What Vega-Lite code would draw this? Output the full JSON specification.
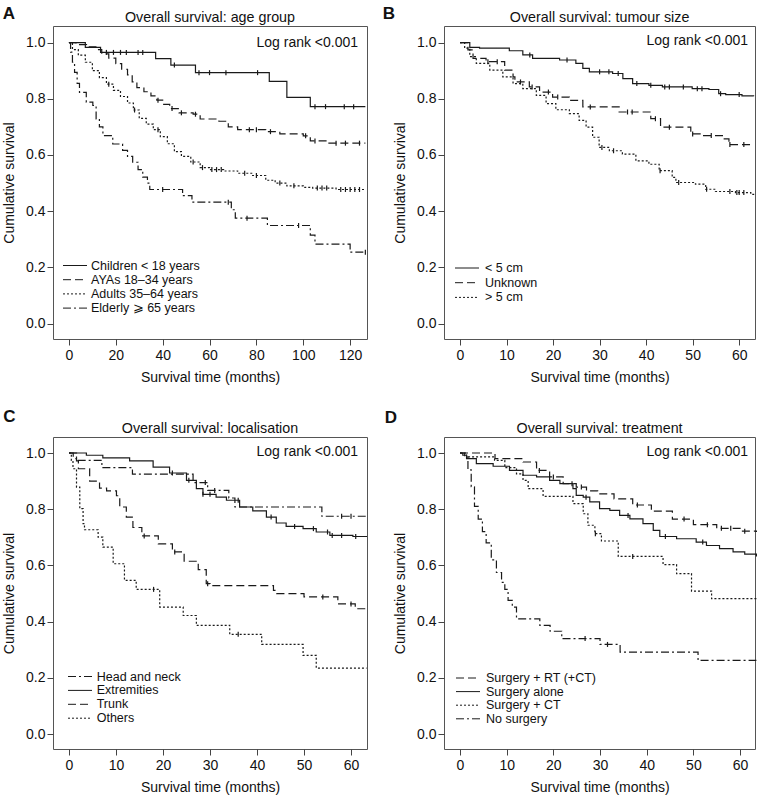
{
"$schema": "https://vega.github.io/schema/vega-lite/v6.json",
"padding": {"left": 2, "top": 4, "right": 0, "bottom": 0},
"background": "white",
"config": {
  "font": "Liberation Sans",
  "view": {"stroke": "#555", "strokeWidth": 1},
  "axis": {"domain": false, "grid": false, "ticks": true, "tickSize": 6, "tickColor": "#444", "tickWidth": 1, "labelFontSize": 14, "labelColor": "#111", "titleFontSize": 14, "titleFontWeight": "normal", "titleColor": "#111", "labelPadding": 3, "labelFlush": false, "labelOverlap": false},
  "axisX": {"titlePadding": 8},
  "axisY": {"titlePadding": 9, "labelPadding": 2},
  "legend": {"symbolSize": 144, "symbolStrokeWidth": 1, "symbolStrokeColor": "#1a1a1a", "symbolFillColor": "transparent", "labelFontSize": 12.5, "labelColor": "#111", "rowPadding": 1.2, "padding": 0, "labelLimit": 300}
},
"datasets": {
"curves": [
{"p":"A","g":"Children < 18 years","m":0,"s":1},{"p":"A","g":"Children < 18 years","m":7,"s":0.983},{"p":"A","g":"Children < 18 years","m":13.5,"s":0.965},{"p":"A","g":"Children < 18 years","m":37,"s":0.943},{"p":"A","g":"Children < 18 years","m":43.5,"s":0.92},{"p":"A","g":"Children < 18 years","m":54,"s":0.893},{"p":"A","g":"Children < 18 years","m":85.5,"s":0.862},{"p":"A","g":"Children < 18 years","m":93,"s":0.805},{"p":"A","g":"Children < 18 years","m":103,"s":0.772},{"p":"A","g":"Children < 18 years","m":126.5,"s":0.772},
{"p":"A","g":"AYAs 18–34 years","m":0,"s":1},{"p":"A","g":"AYAs 18–34 years","m":3,"s":0.993},{"p":"A","g":"AYAs 18–34 years","m":7.5,"s":0.985},{"p":"A","g":"AYAs 18–34 years","m":11.5,"s":0.975},{"p":"A","g":"AYAs 18–34 years","m":14,"s":0.96},{"p":"A","g":"AYAs 18–34 years","m":17,"s":0.945},{"p":"A","g":"AYAs 18–34 years","m":20,"s":0.925},{"p":"A","g":"AYAs 18–34 years","m":22.5,"s":0.905},{"p":"A","g":"AYAs 18–34 years","m":25,"s":0.885},{"p":"A","g":"AYAs 18–34 years","m":27,"s":0.86},{"p":"A","g":"AYAs 18–34 years","m":29,"s":0.84},{"p":"A","g":"AYAs 18–34 years","m":32,"s":0.825},{"p":"A","g":"AYAs 18–34 years","m":35,"s":0.81},{"p":"A","g":"AYAs 18–34 years","m":37.5,"s":0.795},{"p":"A","g":"AYAs 18–34 years","m":40,"s":0.78},{"p":"A","g":"AYAs 18–34 years","m":43,"s":0.765},{"p":"A","g":"AYAs 18–34 years","m":47,"s":0.75},{"p":"A","g":"AYAs 18–34 years","m":53,"s":0.745},{"p":"A","g":"AYAs 18–34 years","m":56,"s":0.728},{"p":"A","g":"AYAs 18–34 years","m":64,"s":0.72},{"p":"A","g":"AYAs 18–34 years","m":68,"s":0.7},{"p":"A","g":"AYAs 18–34 years","m":72,"s":0.69},{"p":"A","g":"AYAs 18–34 years","m":84,"s":0.683},{"p":"A","g":"AYAs 18–34 years","m":90,"s":0.675},{"p":"A","g":"AYAs 18–34 years","m":100,"s":0.668},{"p":"A","g":"AYAs 18–34 years","m":103,"s":0.65},{"p":"A","g":"AYAs 18–34 years","m":110,"s":0.642},{"p":"A","g":"AYAs 18–34 years","m":126.5,"s":0.642},
{"p":"A","g":"Adults 35–64 years","m":0,"s":1},{"p":"A","g":"Adults 35–64 years","m":1.5,"s":0.975},{"p":"A","g":"Adults 35–64 years","m":4,"s":0.955},{"p":"A","g":"Adults 35–64 years","m":7,"s":0.93},{"p":"A","g":"Adults 35–64 years","m":10,"s":0.9},{"p":"A","g":"Adults 35–64 years","m":13,"s":0.875},{"p":"A","g":"Adults 35–64 years","m":16,"s":0.852},{"p":"A","g":"Adults 35–64 years","m":19,"s":0.83},{"p":"A","g":"Adults 35–64 years","m":22,"s":0.808},{"p":"A","g":"Adults 35–64 years","m":25,"s":0.785},{"p":"A","g":"Adults 35–64 years","m":27.5,"s":0.76},{"p":"A","g":"Adults 35–64 years","m":30,"s":0.73},{"p":"A","g":"Adults 35–64 years","m":33,"s":0.71},{"p":"A","g":"Adults 35–64 years","m":36,"s":0.69},{"p":"A","g":"Adults 35–64 years","m":39,"s":0.665},{"p":"A","g":"Adults 35–64 years","m":42,"s":0.64},{"p":"A","g":"Adults 35–64 years","m":45,"s":0.612},{"p":"A","g":"Adults 35–64 years","m":48,"s":0.595},{"p":"A","g":"Adults 35–64 years","m":52,"s":0.575},{"p":"A","g":"Adults 35–64 years","m":56,"s":0.555},{"p":"A","g":"Adults 35–64 years","m":60,"s":0.548},{"p":"A","g":"Adults 35–64 years","m":66,"s":0.543},{"p":"A","g":"Adults 35–64 years","m":72,"s":0.535},{"p":"A","g":"Adults 35–64 years","m":78,"s":0.527},{"p":"A","g":"Adults 35–64 years","m":84,"s":0.51},{"p":"A","g":"Adults 35–64 years","m":88,"s":0.5},{"p":"A","g":"Adults 35–64 years","m":93,"s":0.49},{"p":"A","g":"Adults 35–64 years","m":100,"s":0.485},{"p":"A","g":"Adults 35–64 years","m":104,"s":0.482},{"p":"A","g":"Adults 35–64 years","m":114,"s":0.477},{"p":"A","g":"Adults 35–64 years","m":126.5,"s":0.477},
{"p":"A","g":"Elderly ⩾ 65 years","m":0,"s":1},{"p":"A","g":"Elderly ⩾ 65 years","m":0.7,"s":0.966},{"p":"A","g":"Elderly ⩾ 65 years","m":1.5,"s":0.93},{"p":"A","g":"Elderly ⩾ 65 years","m":2.4,"s":0.894},{"p":"A","g":"Elderly ⩾ 65 years","m":3.5,"s":0.855},{"p":"A","g":"Elderly ⩾ 65 years","m":4.5,"s":0.823},{"p":"A","g":"Elderly ⩾ 65 years","m":7.4,"s":0.788},{"p":"A","g":"Elderly ⩾ 65 years","m":10.2,"s":0.776},{"p":"A","g":"Elderly ⩾ 65 years","m":11.6,"s":0.728},{"p":"A","g":"Elderly ⩾ 65 years","m":13,"s":0.7},{"p":"A","g":"Elderly ⩾ 65 years","m":14.5,"s":0.669},{"p":"A","g":"Elderly ⩾ 65 years","m":18.7,"s":0.639},{"p":"A","g":"Elderly ⩾ 65 years","m":22.9,"s":0.616},{"p":"A","g":"Elderly ⩾ 65 years","m":25,"s":0.595},{"p":"A","g":"Elderly ⩾ 65 years","m":27.2,"s":0.574},{"p":"A","g":"Elderly ⩾ 65 years","m":29.5,"s":0.548},{"p":"A","g":"Elderly ⩾ 65 years","m":31.5,"s":0.521},{"p":"A","g":"Elderly ⩾ 65 years","m":33.5,"s":0.5},{"p":"A","g":"Elderly ⩾ 65 years","m":34.5,"s":0.477},{"p":"A","g":"Elderly ⩾ 65 years","m":48.5,"s":0.455},{"p":"A","g":"Elderly ⩾ 65 years","m":52.5,"s":0.432},{"p":"A","g":"Elderly ⩾ 65 years","m":69.3,"s":0.405},{"p":"A","g":"Elderly ⩾ 65 years","m":71,"s":0.375},{"p":"A","g":"Elderly ⩾ 65 years","m":84.7,"s":0.349},{"p":"A","g":"Elderly ⩾ 65 years","m":103,"s":0.315},{"p":"A","g":"Elderly ⩾ 65 years","m":105,"s":0.283},{"p":"A","g":"Elderly ⩾ 65 years","m":120,"s":0.254},{"p":"A","g":"Elderly ⩾ 65 years","m":126.5,"s":0.254},
{"p":"B","g":"< 5 cm","m":0,"s":1},{"p":"B","g":"< 5 cm","m":2.1,"s":0.983},{"p":"B","g":"< 5 cm","m":4.2,"s":0.98},{"p":"B","g":"< 5 cm","m":10.6,"s":0.971},{"p":"B","g":"< 5 cm","m":13.5,"s":0.956},{"p":"B","g":"< 5 cm","m":15.6,"s":0.944},{"p":"B","g":"< 5 cm","m":21.4,"s":0.938},{"p":"B","g":"< 5 cm","m":24.9,"s":0.926},{"p":"B","g":"< 5 cm","m":26.4,"s":0.908},{"p":"B","g":"< 5 cm","m":27.8,"s":0.896},{"p":"B","g":"< 5 cm","m":32.8,"s":0.89},{"p":"B","g":"< 5 cm","m":35,"s":0.872},{"p":"B","g":"< 5 cm","m":37.1,"s":0.854},{"p":"B","g":"< 5 cm","m":40.6,"s":0.848},{"p":"B","g":"< 5 cm","m":43.5,"s":0.842},{"p":"B","g":"< 5 cm","m":49.9,"s":0.836},{"p":"B","g":"< 5 cm","m":53.5,"s":0.833},{"p":"B","g":"< 5 cm","m":55.6,"s":0.818},{"p":"B","g":"< 5 cm","m":57.1,"s":0.815},{"p":"B","g":"< 5 cm","m":60.6,"s":0.81},{"p":"B","g":"< 5 cm","m":63.1,"s":0.809},
{"p":"B","g":"Unknown","m":0,"s":1},{"p":"B","g":"Unknown","m":1.7,"s":0.974},{"p":"B","g":"Unknown","m":2.8,"s":0.944},{"p":"B","g":"Unknown","m":5.6,"s":0.932},{"p":"B","g":"Unknown","m":9.6,"s":0.902},{"p":"B","g":"Unknown","m":11.4,"s":0.878},{"p":"B","g":"Unknown","m":11.8,"s":0.86},{"p":"B","g":"Unknown","m":14.9,"s":0.842},{"p":"B","g":"Unknown","m":17.1,"s":0.824},{"p":"B","g":"Unknown","m":19.9,"s":0.806},{"p":"B","g":"Unknown","m":23.5,"s":0.794},{"p":"B","g":"Unknown","m":26.4,"s":0.771},{"p":"B","g":"Unknown","m":34.2,"s":0.753},{"p":"B","g":"Unknown","m":41,"s":0.729},{"p":"B","g":"Unknown","m":43.1,"s":0.699},{"p":"B","g":"Unknown","m":49.6,"s":0.675},{"p":"B","g":"Unknown","m":52.1,"s":0.669},{"p":"B","g":"Unknown","m":56.4,"s":0.657},{"p":"B","g":"Unknown","m":57.8,"s":0.637},{"p":"B","g":"Unknown","m":63.1,"s":0.637},
{"p":"B","g":"> 5 cm","m":0,"s":1},{"p":"B","g":"> 5 cm","m":1,"s":0.98},{"p":"B","g":"> 5 cm","m":2.1,"s":0.95},{"p":"B","g":"> 5 cm","m":3.5,"s":0.926},{"p":"B","g":"> 5 cm","m":6.4,"s":0.902},{"p":"B","g":"> 5 cm","m":9.2,"s":0.878},{"p":"B","g":"> 5 cm","m":11.4,"s":0.854},{"p":"B","g":"> 5 cm","m":13.5,"s":0.836},{"p":"B","g":"> 5 cm","m":16.4,"s":0.812},{"p":"B","g":"> 5 cm","m":18.5,"s":0.783},{"p":"B","g":"> 5 cm","m":20.6,"s":0.761},{"p":"B","g":"> 5 cm","m":23.5,"s":0.747},{"p":"B","g":"> 5 cm","m":25.6,"s":0.723},{"p":"B","g":"> 5 cm","m":27.1,"s":0.699},{"p":"B","g":"> 5 cm","m":28.5,"s":0.663},{"p":"B","g":"> 5 cm","m":29.9,"s":0.627},{"p":"B","g":"> 5 cm","m":32.1,"s":0.615},{"p":"B","g":"> 5 cm","m":34.9,"s":0.603},{"p":"B","g":"> 5 cm","m":37.8,"s":0.579},{"p":"B","g":"> 5 cm","m":40.6,"s":0.567},{"p":"B","g":"> 5 cm","m":42.8,"s":0.544},{"p":"B","g":"> 5 cm","m":45.6,"s":0.52},{"p":"B","g":"> 5 cm","m":46.4,"s":0.502},{"p":"B","g":"> 5 cm","m":50.6,"s":0.496},{"p":"B","g":"> 5 cm","m":52.8,"s":0.478},{"p":"B","g":"> 5 cm","m":54.9,"s":0.47},{"p":"B","g":"> 5 cm","m":59.2,"s":0.466},{"p":"B","g":"> 5 cm","m":62.5,"s":0.46},{"p":"B","g":"> 5 cm","m":63.1,"s":0.456},
{"p":"C","g":"Head and neck","m":0,"s":1},{"p":"C","g":"Head and neck","m":1.6,"s":0.974},{"p":"C","g":"Head and neck","m":7,"s":0.948},{"p":"C","g":"Head and neck","m":13.5,"s":0.925},{"p":"C","g":"Head and neck","m":26.4,"s":0.895},{"p":"C","g":"Head and neck","m":29.5,"s":0.867},{"p":"C","g":"Head and neck","m":34,"s":0.84},{"p":"C","g":"Head and neck","m":35.3,"s":0.808},{"p":"C","g":"Head and neck","m":53.8,"s":0.775},{"p":"C","g":"Head and neck","m":63.3,"s":0.775},
{"p":"C","g":"Extremities","m":0,"s":1},{"p":"C","g":"Extremities","m":3.7,"s":0.992},{"p":"C","g":"Extremities","m":7.2,"s":0.983},{"p":"C","g":"Extremities","m":12.9,"s":0.972},{"p":"C","g":"Extremities","m":17.9,"s":0.95},{"p":"C","g":"Extremities","m":21.4,"s":0.929},{"p":"C","g":"Extremities","m":25,"s":0.903},{"p":"C","g":"Extremities","m":27.1,"s":0.873},{"p":"C","g":"Extremities","m":28.5,"s":0.853},{"p":"C","g":"Extremities","m":31.3,"s":0.843},{"p":"C","g":"Extremities","m":33.5,"s":0.832},{"p":"C","g":"Extremities","m":36.3,"s":0.808},{"p":"C","g":"Extremities","m":39.1,"s":0.794},{"p":"C","g":"Extremities","m":42,"s":0.772},{"p":"C","g":"Extremities","m":44.1,"s":0.751},{"p":"C","g":"Extremities","m":46.2,"s":0.739},{"p":"C","g":"Extremities","m":49.8,"s":0.731},{"p":"C","g":"Extremities","m":52.6,"s":0.719},{"p":"C","g":"Extremities","m":55.5,"s":0.707},{"p":"C","g":"Extremities","m":60.4,"s":0.703},{"p":"C","g":"Extremities","m":63.3,"s":0.701},
{"p":"C","g":"Trunk","m":0,"s":1},{"p":"C","g":"Trunk","m":0.9,"s":0.98},{"p":"C","g":"Trunk","m":1.6,"s":0.972},{"p":"C","g":"Trunk","m":2,"s":0.944},{"p":"C","g":"Trunk","m":4.4,"s":0.9},{"p":"C","g":"Trunk","m":6.5,"s":0.875},{"p":"C","g":"Trunk","m":8,"s":0.865},{"p":"C","g":"Trunk","m":10.1,"s":0.848},{"p":"C","g":"Trunk","m":10.8,"s":0.808},{"p":"C","g":"Trunk","m":12.2,"s":0.772},{"p":"C","g":"Trunk","m":13.6,"s":0.735},{"p":"C","g":"Trunk","m":15.5,"s":0.705},{"p":"C","g":"Trunk","m":19,"s":0.677},{"p":"C","g":"Trunk","m":22,"s":0.648},{"p":"C","g":"Trunk","m":24.5,"s":0.615},{"p":"C","g":"Trunk","m":27.5,"s":0.585},{"p":"C","g":"Trunk","m":29.2,"s":0.535},{"p":"C","g":"Trunk","m":30,"s":0.528},{"p":"C","g":"Trunk","m":43.5,"s":0.511},{"p":"C","g":"Trunk","m":44.2,"s":0.5},{"p":"C","g":"Trunk","m":50,"s":0.488},{"p":"C","g":"Trunk","m":57.2,"s":0.463},{"p":"C","g":"Trunk","m":60.9,"s":0.446},{"p":"C","g":"Trunk","m":63.3,"s":0.446},
{"p":"C","g":"Others","m":0,"s":1},{"p":"C","g":"Others","m":0.5,"s":0.974},{"p":"C","g":"Others","m":0.85,"s":0.944},{"p":"C","g":"Others","m":1.6,"s":0.879},{"p":"C","g":"Others","m":2.3,"s":0.802},{"p":"C","g":"Others","m":3,"s":0.749},{"p":"C","g":"Others","m":3.3,"s":0.727},{"p":"C","g":"Others","m":6.2,"s":0.701},{"p":"C","g":"Others","m":7.2,"s":0.665},{"p":"C","g":"Others","m":9.4,"s":0.606},{"p":"C","g":"Others","m":11.8,"s":0.547},{"p":"C","g":"Others","m":14.3,"s":0.515},{"p":"C","g":"Others","m":19.3,"s":0.452},{"p":"C","g":"Others","m":24.3,"s":0.422},{"p":"C","g":"Others","m":27.1,"s":0.387},{"p":"C","g":"Others","m":34.2,"s":0.355},{"p":"C","g":"Others","m":41,"s":0.319},{"p":"C","g":"Others","m":49.8,"s":0.28},{"p":"C","g":"Others","m":52.6,"s":0.235},{"p":"C","g":"Others","m":63.3,"s":0.235},
{"p":"D","g":"Surgery + RT (+CT)","m":0,"s":1},{"p":"D","g":"Surgery + RT (+CT)","m":7.5,"s":0.98},{"p":"D","g":"Surgery + RT (+CT)","m":13.5,"s":0.968},{"p":"D","g":"Surgery + RT (+CT)","m":16.4,"s":0.938},{"p":"D","g":"Surgery + RT (+CT)","m":19.2,"s":0.915},{"p":"D","g":"Surgery + RT (+CT)","m":22.1,"s":0.891},{"p":"D","g":"Surgery + RT (+CT)","m":24.9,"s":0.879},{"p":"D","g":"Surgery + RT (+CT)","m":27.1,"s":0.865},{"p":"D","g":"Surgery + RT (+CT)","m":29.5,"s":0.855},{"p":"D","g":"Surgery + RT (+CT)","m":33,"s":0.837},{"p":"D","g":"Surgery + RT (+CT)","m":37,"s":0.815},{"p":"D","g":"Surgery + RT (+CT)","m":41,"s":0.793},{"p":"D","g":"Surgery + RT (+CT)","m":45.5,"s":0.765},{"p":"D","g":"Surgery + RT (+CT)","m":50,"s":0.745},{"p":"D","g":"Surgery + RT (+CT)","m":55,"s":0.732},{"p":"D","g":"Surgery + RT (+CT)","m":60,"s":0.722},{"p":"D","g":"Surgery + RT (+CT)","m":63.5,"s":0.719},
{"p":"D","g":"Surgery alone","m":0,"s":1},{"p":"D","g":"Surgery alone","m":0.6,"s":0.992},{"p":"D","g":"Surgery alone","m":1.4,"s":0.98},{"p":"D","g":"Surgery alone","m":3.5,"s":0.962},{"p":"D","g":"Surgery alone","m":7.1,"s":0.953},{"p":"D","g":"Surgery alone","m":10.6,"s":0.938},{"p":"D","g":"Surgery alone","m":13.5,"s":0.921},{"p":"D","g":"Surgery alone","m":16.4,"s":0.915},{"p":"D","g":"Surgery alone","m":19.2,"s":0.903},{"p":"D","g":"Surgery alone","m":21.4,"s":0.891},{"p":"D","g":"Surgery alone","m":24.2,"s":0.873},{"p":"D","g":"Surgery alone","m":24.9,"s":0.849},{"p":"D","g":"Surgery alone","m":26.4,"s":0.843},{"p":"D","g":"Surgery alone","m":27.8,"s":0.826},{"p":"D","g":"Surgery alone","m":29.9,"s":0.802},{"p":"D","g":"Surgery alone","m":32.1,"s":0.796},{"p":"D","g":"Surgery alone","m":34.2,"s":0.778},{"p":"D","g":"Surgery alone","m":36.4,"s":0.766},{"p":"D","g":"Surgery alone","m":39.2,"s":0.749},{"p":"D","g":"Surgery alone","m":41.4,"s":0.725},{"p":"D","g":"Surgery alone","m":42.8,"s":0.703},{"p":"D","g":"Surgery alone","m":46.4,"s":0.695},{"p":"D","g":"Surgery alone","m":50.6,"s":0.683},{"p":"D","g":"Surgery alone","m":52.8,"s":0.671},{"p":"D","g":"Surgery alone","m":55.6,"s":0.66},{"p":"D","g":"Surgery alone","m":58.5,"s":0.648},{"p":"D","g":"Surgery alone","m":61,"s":0.64},{"p":"D","g":"Surgery alone","m":63.5,"s":0.632},
{"p":"D","g":"Surgery + CT","m":0,"s":1},{"p":"D","g":"Surgery + CT","m":1.4,"s":0.986},{"p":"D","g":"Surgery + CT","m":7.4,"s":0.974},{"p":"D","g":"Surgery + CT","m":9.6,"s":0.948},{"p":"D","g":"Surgery + CT","m":12.1,"s":0.926},{"p":"D","g":"Surgery + CT","m":13.5,"s":0.903},{"p":"D","g":"Surgery + CT","m":14.6,"s":0.873},{"p":"D","g":"Surgery + CT","m":17.8,"s":0.846},{"p":"D","g":"Surgery + CT","m":24.2,"s":0.82},{"p":"D","g":"Surgery + CT","m":26.4,"s":0.784},{"p":"D","g":"Surgery + CT","m":27.4,"s":0.743},{"p":"D","g":"Surgery + CT","m":28.9,"s":0.713},{"p":"D","g":"Surgery + CT","m":30.3,"s":0.687},{"p":"D","g":"Surgery + CT","m":33.9,"s":0.632},{"p":"D","g":"Surgery + CT","m":43.5,"s":0.603},{"p":"D","g":"Surgery + CT","m":46.4,"s":0.571},{"p":"D","g":"Surgery + CT","m":49.6,"s":0.509},{"p":"D","g":"Surgery + CT","m":53.9,"s":0.482},{"p":"D","g":"Surgery + CT","m":63.5,"s":0.482},
{"p":"D","g":"No surgery","m":0,"s":1},{"p":"D","g":"No surgery","m":1,"s":0.986},{"p":"D","g":"No surgery","m":1.7,"s":0.94},{"p":"D","g":"No surgery","m":2.4,"s":0.88},{"p":"D","g":"No surgery","m":3.1,"s":0.81},{"p":"D","g":"No surgery","m":3.9,"s":0.765},{"p":"D","g":"No surgery","m":4.8,"s":0.72},{"p":"D","g":"No surgery","m":5.6,"s":0.68},{"p":"D","g":"No surgery","m":6.7,"s":0.62},{"p":"D","g":"No surgery","m":7.8,"s":0.575},{"p":"D","g":"No surgery","m":8.9,"s":0.54},{"p":"D","g":"No surgery","m":9.6,"s":0.515},{"p":"D","g":"No surgery","m":10.3,"s":0.476},{"p":"D","g":"No surgery","m":11.2,"s":0.452},{"p":"D","g":"No surgery","m":12.1,"s":0.41},{"p":"D","g":"No surgery","m":17.1,"s":0.387},{"p":"D","g":"No surgery","m":19.3,"s":0.366},{"p":"D","g":"No surgery","m":21.8,"s":0.34},{"p":"D","g":"No surgery","m":30,"s":0.319},{"p":"D","g":"No surgery","m":34.3,"s":0.292},{"p":"D","g":"No surgery","m":51,"s":0.262},{"p":"D","g":"No surgery","m":63.5,"s":0.262}
],
"censor": [
{"p":"A","m":16,"s":0.965},{"p":"A","m":19,"s":0.965},{"p":"A","m":22,"s":0.965},{"p":"A","m":24.5,"s":0.965},{"p":"A","m":29.5,"s":0.965},{"p":"A","m":31.5,"s":0.965},{"p":"A","m":45,"s":0.92},{"p":"A","m":55.5,"s":0.893},{"p":"A","m":60,"s":0.893},{"p":"A","m":67,"s":0.893},{"p":"A","m":80.5,"s":0.893},{"p":"A","m":105,"s":0.772},{"p":"A","m":109.5,"s":0.772},{"p":"A","m":117.5,"s":0.772},{"p":"A","m":121.5,"s":0.772},
{"p":"A","m":38,"s":0.795},{"p":"A","m":44,"s":0.765},{"p":"A","m":48,"s":0.75},{"p":"A","m":54,"s":0.745},{"p":"A","m":77,"s":0.69},{"p":"A","m":80,"s":0.69},{"p":"A","m":86,"s":0.683},{"p":"A","m":101,"s":0.668},{"p":"A","m":105,"s":0.65},{"p":"A","m":114,"s":0.642},{"p":"A","m":118,"s":0.642},{"p":"A","m":124,"s":0.642},
{"p":"A","m":17,"s":0.852},{"p":"A","m":28,"s":0.76},{"p":"A","m":38,"s":0.69},{"p":"A","m":53,"s":0.575},{"p":"A","m":57,"s":0.555},{"p":"A","m":61,"s":0.548},{"p":"A","m":63,"s":0.548},{"p":"A","m":65,"s":0.548},{"p":"A","m":75,"s":0.535},{"p":"A","m":80,"s":0.527},{"p":"A","m":90,"s":0.5},{"p":"A","m":96,"s":0.49},{"p":"A","m":106,"s":0.482},{"p":"A","m":108,"s":0.482},{"p":"A","m":110,"s":0.482},{"p":"A","m":116,"s":0.477},{"p":"A","m":118,"s":0.477},{"p":"A","m":120,"s":0.477},{"p":"A","m":122,"s":0.477},{"p":"A","m":124,"s":0.477},
{"p":"A","m":40,"s":0.477},{"p":"A","m":68,"s":0.432},{"p":"A","m":76,"s":0.375},{"p":"A","m":98,"s":0.349},{"p":"A","m":126.5,"s":0.254},
{"p":"B","m":15,"s":0.956},{"p":"B","m":23,"s":0.938},{"p":"B","m":30,"s":0.896},{"p":"B","m":32,"s":0.896},{"p":"B","m":34,"s":0.89},{"p":"B","m":38,"s":0.854},{"p":"B","m":41,"s":0.848},{"p":"B","m":44,"s":0.842},{"p":"B","m":45,"s":0.842},{"p":"B","m":48,"s":0.842},{"p":"B","m":51,"s":0.836},{"p":"B","m":52,"s":0.836},{"p":"B","m":56,"s":0.818},{"p":"B","m":60,"s":0.815},
{"p":"B","m":6,"s":0.932},{"p":"B","m":8,"s":0.932},{"p":"B","m":13,"s":0.86},{"p":"B","m":15.5,"s":0.842},{"p":"B","m":19,"s":0.824},{"p":"B","m":21,"s":0.806},{"p":"B","m":28,"s":0.771},{"p":"B","m":36,"s":0.753},{"p":"B","m":37,"s":0.753},{"p":"B","m":42,"s":0.729},{"p":"B","m":45,"s":0.699},{"p":"B","m":50,"s":0.675},{"p":"B","m":54,"s":0.669},{"p":"B","m":58,"s":0.637},{"p":"B","m":61,"s":0.637},
{"p":"B","m":30.5,"s":0.627},{"p":"B","m":33,"s":0.615},{"p":"B","m":43,"s":0.544},{"p":"B","m":47,"s":0.502},{"p":"B","m":53,"s":0.478},{"p":"B","m":58,"s":0.47},{"p":"B","m":59.5,"s":0.466},{"p":"B","m":60,"s":0.466},{"p":"B","m":61,"s":0.466},
{"p":"C","m":29,"s":0.895},{"p":"C","m":31,"s":0.867},{"p":"C","m":58,"s":0.775},{"p":"C","m":60,"s":0.775},
{"p":"C","m":22,"s":0.929},{"p":"C","m":25.5,"s":0.903},{"p":"C","m":28.5,"s":0.853},{"p":"C","m":30,"s":0.853},{"p":"C","m":36,"s":0.832},{"p":"C","m":43,"s":0.772},{"p":"C","m":48,"s":0.739},{"p":"C","m":52,"s":0.731},{"p":"C","m":55,"s":0.719},{"p":"C","m":56,"s":0.707},{"p":"C","m":58,"s":0.707},{"p":"C","m":61,"s":0.703},
{"p":"C","m":16,"s":0.705},{"p":"C","m":22.5,"s":0.648},{"p":"C","m":29.5,"s":0.535},{"p":"C","m":54,"s":0.488},{"p":"C","m":60,"s":0.463},
{"p":"C","m":18,"s":0.515},{"p":"C","m":36,"s":0.355},
{"p":"D","m":17,"s":0.938},{"p":"D","m":20,"s":0.915},{"p":"D","m":24,"s":0.891},{"p":"D","m":26,"s":0.879},{"p":"D","m":38,"s":0.815},{"p":"D","m":48,"s":0.765},{"p":"D","m":53,"s":0.745},{"p":"D","m":56,"s":0.732},{"p":"D","m":58,"s":0.732},{"p":"D","m":61,"s":0.722},
{"p":"D","m":27,"s":0.843},{"p":"D","m":36,"s":0.778},{"p":"D","m":44,"s":0.703},{"p":"D","m":52,"s":0.683},
{"p":"D","m":29,"s":0.713},{"p":"D","m":37,"s":0.632},
{"p":"D","m":26.8,"s":0.34},{"p":"D","m":31.6,"s":0.319}
]
},
"columns": 2,
"spacing": {"row": 98, "column": 77},
"bounds": "flush",
"resolve": {"scale": {"x": "independent", "y": "independent", "strokeDash": "independent"}, "legend": {"strokeDash": "independent"}, "axis": {"x": "independent", "y": "independent"}},
"concat": [
{
 "width": 314, "height": 313,
 "layer": [
  {"data": {"name": "curves"}, "transform": [{"filter": "datum.p == 'A'"}],
   "mark": {"type": "line", "interpolate": "step-after", "strokeWidth": 1.2, "color": "#1a1a1a"},
   "encoding": {
    "x": {"field": "m", "type": "quantitative", "scale": {"domain": [-6.8, 127.2], "nice": false, "zero": false}, "axis": {"values": [0,20,40,60,80,100,120], "title": "Survival time (months)"}},
    "y": {"field": "s", "type": "quantitative", "scale": {"domain": [-0.055, 1.059], "nice": false, "zero": false}, "axis": {"values": [0,0.2,0.4,0.6,0.8,1], "format": ".1f", "title": "Cumulative survival"}},
    "strokeDash": {"field": "g", "type": "nominal", "scale": {"domain": ["Children < 18 years","AYAs 18–34 years","Adults 35–64 years","Elderly ⩾ 65 years"], "range": [[1,0],[8,4],[2,2],[8,3,2,3]]},
      "legend": {"title": null, "orient": "none", "legendX": 15.5, "legendY": 233, "labelOffset": 9.5, "symbolType": "M-2,0H2"}}
   }},
  {"data": {"name": "censor"}, "transform": [{"filter": "datum.p == 'A'"}],
   "mark": {"type": "point", "shape": "M0,-1V1", "size": 25, "strokeWidth": 1.2, "color": "#1a1a1a", "filled": false, "opacity": 1},
   "encoding": {"x": {"field": "m", "type": "quantitative", "title": "Survival time (months)"}, "y": {"field": "s", "type": "quantitative", "title": "Cumulative survival"}}},
  {"data": {"values": [{}]},
   "mark": {"type": "text", "text": "Log rank <0.001", "align": "right", "baseline": "alphabetic", "fontSize": 14, "color": "#111"},
   "encoding": {"x": {"datum": 123.4, "type": "quantitative"}, "y": {"datum": 0.985, "type": "quantitative"}}},
  {"data": {"values": [{}]},
   "mark": {"type": "text", "text": "Overall survival: age group", "align": "center", "baseline": "alphabetic", "fontSize": 14.3, "color": "#111"},
   "encoding": {"x": {"datum": 60.2, "type": "quantitative"}, "y": {"datum": 1.074, "type": "quantitative"}}},
  {"data": {"values": [{}]},
   "mark": {"type": "text", "text": "A", "align": "left", "baseline": "alphabetic", "fontSize": 17, "fontWeight": "bold", "color": "#111"},
   "encoding": {"x": {"datum": -28.2, "type": "quantitative"}, "y": {"datum": 1.083, "type": "quantitative"}}}
 ]
},
{
 "width": 311, "height": 313,
 "layer": [
  {"data": {"name": "curves"}, "transform": [{"filter": "datum.p == 'B'"}],
   "mark": {"type": "line", "interpolate": "step-after", "strokeWidth": 1.2, "color": "#1a1a1a"},
   "encoding": {
    "x": {"field": "m", "type": "quantitative", "scale": {"domain": [-3.44, 63.4], "nice": false, "zero": false}, "axis": {"values": [0,10,20,30,40,50,60], "title": "Survival time (months)"}},
    "y": {"field": "s", "type": "quantitative", "scale": {"domain": [-0.055, 1.059], "nice": false, "zero": false}, "axis": {"values": [0,0.2,0.4,0.6,0.8,1], "format": ".1f", "title": "Cumulative survival"}},
    "strokeDash": {"field": "g", "type": "nominal", "scale": {"domain": ["< 5 cm","Unknown","> 5 cm"], "range": [[1,0],[8,4],[2,2]]},
      "legend": {"title": null, "orient": "none", "legendX": 16.5, "legendY": 235.5, "labelOffset": 11.5, "symbolType": "M-2,0H2", "rowPadding": 1.7}}
   }},
  {"data": {"name": "censor"}, "transform": [{"filter": "datum.p == 'B'"}],
   "mark": {"type": "point", "shape": "M0,-1V1", "size": 25, "strokeWidth": 1.2, "color": "#1a1a1a", "filled": false, "opacity": 1},
   "encoding": {"x": {"field": "m", "type": "quantitative", "title": "Survival time (months)"}, "y": {"field": "s", "type": "quantitative", "title": "Cumulative survival"}}},
  {"data": {"values": [{}]},
   "mark": {"type": "text", "text": "Log rank <0.001", "align": "right", "baseline": "alphabetic", "fontSize": 14, "color": "#111"},
   "encoding": {"x": {"datum": 61.9, "type": "quantitative"}, "y": {"datum": 0.99, "type": "quantitative"}}},
  {"data": {"values": [{}]},
   "mark": {"type": "text", "text": "Overall survival: tumour size", "align": "center", "baseline": "alphabetic", "fontSize": 14.3, "color": "#111"},
   "encoding": {"x": {"datum": 30.0, "type": "quantitative"}, "y": {"datum": 1.074, "type": "quantitative"}}},
  {"data": {"values": [{}]},
   "mark": {"type": "text", "text": "B", "align": "left", "baseline": "alphabetic", "fontSize": 17, "fontWeight": "bold", "color": "#111"},
   "encoding": {"x": {"datum": -16.6, "type": "quantitative"}, "y": {"datum": 1.083, "type": "quantitative"}}}
 ]
},
{
 "width": 314, "height": 312,
 "layer": [
  {"data": {"name": "curves"}, "transform": [{"filter": "datum.p == 'C'"}],
   "mark": {"type": "line", "interpolate": "step-after", "strokeWidth": 1.2, "color": "#1a1a1a"},
   "encoding": {
    "x": {"field": "m", "type": "quantitative", "scale": {"domain": [-3.4, 63.4], "nice": false, "zero": false}, "axis": {"values": [0,10,20,30,40,50,60], "title": "Survival time (months)"}},
    "y": {"field": "s", "type": "quantitative", "scale": {"domain": [-0.053, 1.057], "nice": false, "zero": false}, "axis": {"values": [0,0.2,0.4,0.6,0.8,1], "format": ".1f", "title": "Cumulative survival"}},
    "strokeDash": {"field": "g", "type": "nominal", "scale": {"domain": ["Head and neck","Extremities","Trunk","Others"], "range": [[8,3,2,3],[1,0],[8,4],[2,2]]},
      "legend": {"title": null, "orient": "none", "legendX": 20.5, "legendY": 233, "labelOffset": 10.2, "symbolType": "M-2,0H2", "rowPadding": 0.9}}
   }},
  {"data": {"name": "censor"}, "transform": [{"filter": "datum.p == 'C'"}],
   "mark": {"type": "point", "shape": "M0,-1V1", "size": 25, "strokeWidth": 1.2, "color": "#1a1a1a", "filled": false, "opacity": 1},
   "encoding": {"x": {"field": "m", "type": "quantitative", "title": "Survival time (months)"}, "y": {"field": "s", "type": "quantitative", "title": "Cumulative survival"}}},
  {"data": {"values": [{}]},
   "mark": {"type": "text", "text": "Log rank <0.001", "align": "right", "baseline": "alphabetic", "fontSize": 14, "color": "#111"},
   "encoding": {"x": {"datum": 61.5, "type": "quantitative"}, "y": {"datum": 0.988, "type": "quantitative"}}},
  {"data": {"values": [{}]},
   "mark": {"type": "text", "text": "Overall survival: localisation", "align": "center", "baseline": "alphabetic", "fontSize": 14.3, "color": "#111"},
   "encoding": {"x": {"datum": 30.0, "type": "quantitative"}, "y": {"datum": 1.071, "type": "quantitative"}}},
  {"data": {"values": [{}]},
   "mark": {"type": "text", "text": "C", "align": "left", "baseline": "alphabetic", "fontSize": 17, "fontWeight": "bold", "color": "#111"},
   "encoding": {"x": {"datum": -14.0, "type": "quantitative"}, "y": {"datum": 1.111, "type": "quantitative"}}}
 ]
},
{
 "width": 311, "height": 312,
 "layer": [
  {"data": {"name": "curves"}, "transform": [{"filter": "datum.p == 'D'"}],
   "mark": {"type": "line", "interpolate": "step-after", "strokeWidth": 1.2, "color": "#1a1a1a"},
   "encoding": {
    "x": {"field": "m", "type": "quantitative", "scale": {"domain": [-3.43, 63.2], "nice": false, "zero": false}, "axis": {"values": [0,10,20,30,40,50,60], "title": "Survival time (months)"}},
    "y": {"field": "s", "type": "quantitative", "scale": {"domain": [-0.053, 1.057], "nice": false, "zero": false}, "axis": {"values": [0,0.2,0.4,0.6,0.8,1], "format": ".1f", "title": "Cumulative survival"}},
    "strokeDash": {"field": "g", "type": "nominal", "scale": {"domain": ["Surgery + RT (+CT)","Surgery alone","Surgery + CT","No surgery"], "range": [[8,4],[1,0],[2,2],[8,3,2,3]]},
      "legend": {"title": null, "orient": "none", "legendX": 17.5, "legendY": 234.5, "labelOffset": 11.5, "symbolType": "M-2,0H2", "rowPadding": 0.6}}
   }},
  {"data": {"name": "censor"}, "transform": [{"filter": "datum.p == 'D'"}],
   "mark": {"type": "point", "shape": "M0,-1V1", "size": 25, "strokeWidth": 1.2, "color": "#1a1a1a", "filled": false, "opacity": 1},
   "encoding": {"x": {"field": "m", "type": "quantitative", "title": "Survival time (months)"}, "y": {"field": "s", "type": "quantitative", "title": "Cumulative survival"}}},
  {"data": {"values": [{}]},
   "mark": {"type": "text", "text": "Log rank <0.001", "align": "right", "baseline": "alphabetic", "fontSize": 14, "color": "#111"},
   "encoding": {"x": {"datum": 61.7, "type": "quantitative"}, "y": {"datum": 0.99, "type": "quantitative"}}},
  {"data": {"values": [{}]},
   "mark": {"type": "text", "text": "Overall survival: treatment", "align": "center", "baseline": "alphabetic", "fontSize": 14.3, "color": "#111"},
   "encoding": {"x": {"datum": 29.9, "type": "quantitative"}, "y": {"datum": 1.071, "type": "quantitative"}}},
  {"data": {"values": [{}]},
   "mark": {"type": "text", "text": "D", "align": "left", "baseline": "alphabetic", "fontSize": 17, "fontWeight": "bold", "color": "#111"},
   "encoding": {"x": {"datum": -16.1, "type": "quantitative"}, "y": {"datum": 1.108, "type": "quantitative"}}}
 ]
}
]
}
